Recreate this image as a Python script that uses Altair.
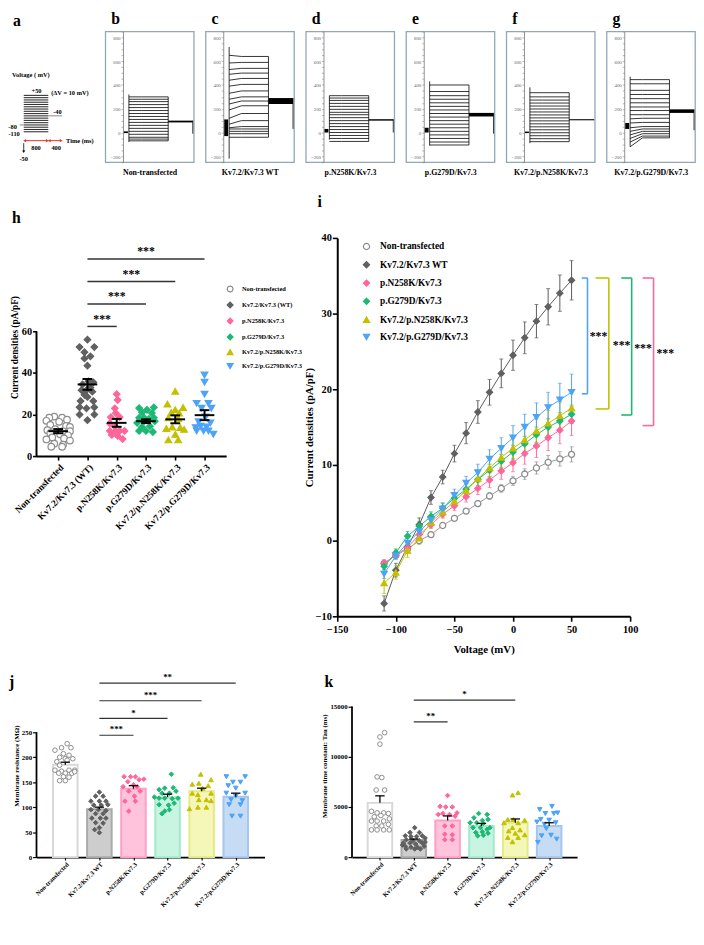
import altair as alt
import pandas as pd

FONT = "Liberation Serif"

# ============================ DATA ============================
protocol_steps_mv = [-110, -100, -90, -80, -70, -60, -50, -40, -30, -20, -10, 0, 10, 20, 30, 40, 50]
protocol_step_ms = [0, 800]
protocol_tail_ms = [800, 1250]
protocol_tail_mv = -40
protocol_hold_ms = [-130, 0]
protocol_hold_mv = -80

trace_letters = ["b", "c", "d", "e", "f", "g"]
trace_labels = ["Non-transfected", "Kv7.2/Kv7.3 WT", "p.N258K/Kv7.3",
                "p.G279D/Kv7.3", "Kv7.2/p.N258K/Kv7.3", "Kv7.2/p.G279D/Kv7.3"]
steady_b = [-70, -55, -40, -15, 10, 35, 60, 85, 110, 135, 160, 185, 210, 235, 260, 280, 300]
steady_c = [-40, -10, 10, 30, 50, 100, 160, 225, 265, 300, 350, 405, 455, 500, 540, 590, 640]
steady_d = [-75, -50, -25, 0, 25, 50, 75, 100, 125, 150, 170, 195, 220, 245, 270, 290, 310]
steady_e = [-105, -80, -50, -20, 10, 40, 70, 100, 130, 160, 190, 220, 250, 280, 310, 345, 400]
steady_f = [-77, -52, -27, -2, 23, 48, 73, 98, 123, 148, 173, 198, 223, 248, 273, 300, 335]
steady_g = [-45, -30, -10, 10, 30, 50, 85, 120, 150, 185, 215, 250, 285, 320, 355, 410, 445]
onset_c = [-40, -10, 10, 30, 40, 70, 120, 190, 240, 280, 330, 390, 440, 490, 530, 585, 650]
onset_g = [-120, -80, -50, -20, 10, 40, 80, 115, 150, 185, 215, 250, 285, 320, 355, 410, 445]
trace_steady = [steady_b, steady_c, steady_d, steady_e, steady_f, steady_g]
trace_onset = [steady_b, onset_c, steady_d, steady_e, steady_f, onset_g]
tail_lo = [85, 240, 100, 135, 103, 165]
tail_hi = [100, 290, 112, 165, 112, 195]
tail_end = [-10, 30, 0, -10, 103, 20]
spike_lo = [-80, -220, -60, -110, -90, -120]
spike_hi = [320, 720, 310, 430, 380, 470]
hold_lo = [-5, -30, 0, 0, -5, 30]
hold_hi = [10, 110, 30, 40, 8, 80]
trace_ticks = [-250, -200, -150, -100, -50, 0, 50, 100, 150, 200, 250, 300, 350, 400,
               450, 500, 550, 600, 650, 700, 750, 800, 850]

h_groups = ["Non-transfected", "Kv7.2/Kv7.3 (WT)", "p.N258K/Kv7.3", "p.G279D/Kv7.3",
            "Kv7.2/p.N258K/Kv7.3", "Kv7.2/p.G279D/Kv7.3"]
groups = ["Non-transfected", "Kv7.2/Kv7.3 WT", "p.N258K/Kv7.3", "p.G279D/Kv7.3",
          "Kv7.2/p.N258K/Kv7.3", "Kv7.2/p.G279D/Kv7.3"]
pt_stroke = ["#8c8c8c", "#606060", "#ff6699", "#1db874", "#c4c000", "#4da3f7"]
pt_fill = ["#ffffff", "#606060", "#ff6699", "#1db874", "#c4c000", "#4da3f7"]
pt_shape = ["circle", "diamond", "diamond", "diamond", "triangle-up", "triangle-down"]
bar_fill = ["#ffffff", "#cdcdcd", "#ffc3dc", "#c8f4e2", "#f4f7b8", "#c6dbf4"]
bar_stroke = ["#d8d8d8", "#a9a9a9", "#ff9ec6", "#a3e9cc", "#e4ea86", "#a6c5ec"]

h_nt = [19, 18.5, 18.5, 17.5, 17, 16.5, 15, 14.5, 14, 13, 12.5, 12, 12, 11, 10.5, 10, 9, 8.5, 8, 7.5, 6, 5.5, 4.5, 4.5]
h_nt_off = [-4, 4, -9, 9, -12, 1, -8, 8, 12, -3, -11, 5, 12, -8, 2, 10, -6, 6, -12, 12, -4, 5, -7, 4]
h_wt = [56, 52.5, 52.5, 50, 48, 47, 43.5, 36, 35.5, 34.5, 33, 31.7, 31.7, 31, 29.5, 28.5, 26.5, 26.5, 23.5, 23, 23.5, 20, 20, 17.3]
h_wt_off = [0, -8, 7, -3, 3, -3, 0, 1, 6, -5, 3, -6, -1, 5, -3, 0, -7, 6, -8, -1, 7, -8, 7, 0]
h_n258 = [29.8, 27, 23, 20.7, 18.7, 18.7, 15.7, 14.4, 12.1, 12.1, 12.1, 12.1, 10.2, 9.7, 8.2]
h_n258_off = [0, 1, -2, -1, -6, 3, -7, -2, -7, -1, 3, 8, -5, 1, 6]
h_g279 = [23.4, 22.3, 23.1, 21, 20.7, 18.4, 17.9, 18.4, 16.8, 12.1, 12.1, 11.6, 14, 14.4, 18.4, 16.8, 16]
h_g279_off = [8, 1, -7, -4, 6, -7, 3, 8, -2, -7, 0, 7, -4, 4, -2, 9, -9]
h_kn = [31.2, 25, 22.3, 23.4, 21, 20.7, 18.4, 18.1, 14, 13.7, 13.3, 12.9, 10.5, 7.8, 7.8]
h_kn_off = [0, -8, 0, 8, -4, 4, -7, 3, -3, 5, -9, 9, 0, -7, 3]
h_kg = [39, 35.6, 29.8, 25.4, 25.4, 23, 23, 18.8, 16.5, 16, 12.1, 12.1, 12.1, 10.5, 14.4, 14, 13.7]
h_kg_off = [0, 0, 0, -8, 4, -3, 7, 1, -6, 6, -8, -1, 4, 9, -4, 2, -9]
h_values = [h_nt, h_wt, h_n258, h_g279, h_kn, h_kg]
h_offsets = [h_nt_off, h_wt_off, h_n258_off, h_g279_off, h_kn_off, h_kg_off]
h_mean = [12.0, 34.5, 16.0, 16.8, 17.7, 19.7]
h_sem = [1.0, 2.6, 1.9, 0.9, 1.9, 2.4]
h_sig_to = [2, 3, 4, 5]
h_sig_y = [62.4, 73.2, 84.0, 94.8]
h_sig_txt = ["***", "***", "***", "***"]

iv_mv = [-110, -100, -90, -80, -70, -60, -50, -40, -30, -20, -10, 0, 10, 20, 30, 40, 50]
iv_nt = [-3.0, -1.95, -1.1, 0.0, 0.8, 2.0, 2.95, 3.9, 4.9, 5.9, 6.9, 7.9, 8.8, 9.6, 10.35, 10.8, 11.4]
iv_nt_e = [0.3, 0.3, 0.3, 0.3, 0.3, 0.3, 0.3, 0.35, 0.4, 0.45, 0.5, 0.6, 0.7, 0.8, 0.9, 0.95, 1.0]
iv_wt = [-8.3, -3.9, -0.8, 2.1, 5.7, 8.4, 11.5, 14.2, 17.0, 19.6, 22.1, 24.5, 26.8, 29.0, 30.9, 32.7, 34.4]
iv_wt_e = [1.0, 0.9, 0.6, 0.9, 0.9, 0.9, 1.1, 1.4, 1.5, 1.7, 1.9, 2.0, 2.1, 2.2, 2.4, 2.4, 2.6]
iv_n258 = [-3.0, -1.9, -0.9, 0.8, 2.1, 3.5, 4.6, 5.8, 6.9, 8.0, 9.2, 10.3, 11.5, 12.5, 13.6, 14.6, 15.8]
iv_n258_e = [0.5, 0.4, 0.4, 0.4, 0.4, 0.5, 0.6, 0.7, 0.8, 1.0, 1.1, 1.2, 1.4, 1.5, 1.7, 1.8, 1.9]
iv_g279 = [-3.4, -1.6, 0.6, 1.9, 3.2, 4.3, 5.6, 6.8, 8.1, 9.3, 10.5, 11.7, 12.8, 14.0, 15.0, 15.8, 16.7]
iv_g279_e = [0.5, 0.5, 0.6, 0.6, 0.6, 0.7, 0.7, 0.7, 0.8, 0.8, 0.9, 0.9, 1.0, 1.0, 1.1, 1.1, 1.2]
iv_kn = [-5.6, -4.2, -1.3, 0.3, 2.4, 3.8, 5.2, 6.6, 8.2, 9.6, 11.0, 12.2, 13.3, 14.5, 15.5, 16.5, 17.5]
iv_kn_e = [1.4, 0.9, 0.9, 0.8, 0.8, 0.8, 0.9, 1.0, 1.1, 1.2, 1.3, 1.4, 1.5, 1.6, 1.7, 1.8, 2.0]
iv_kg = [-4.4, -2.0, -0.3, 1.2, 2.7, 4.2, 6.0, 7.6, 9.0, 10.8, 12.2, 13.6, 15.0, 16.3, 17.6, 18.6, 19.6]
iv_kg_e = [0.6, 0.5, 0.6, 0.6, 0.6, 0.7, 0.8, 0.9, 1.1, 1.2, 1.4, 1.6, 1.7, 1.9, 2.0, 2.2, 2.4]
iv_means = [iv_nt, iv_wt, iv_n258, iv_g279, iv_kn, iv_kg]
iv_errs = [iv_nt_e, iv_wt_e, iv_n258_e, iv_g279_e, iv_kn_e, iv_kg_e]
iv_line_color = ["#9a9a9a", "#5a5a5a", "#ff6699", "#1db874", "#c4c000", "#4da3f7"]
br_color = ["#4da3f7", "#c4c000", "#1db874", "#ff6699"]
br_x = [63.6, 81.8, 101.3, 120.0]
br_xl = [58.7, 70.5, 92.4, 110.6]
br_top = [34.7, 34.7, 34.7, 34.7]
br_bot = [19.4, 17.4, 16.6, 15.2]
br_star_x = [73.0, 92.7, 111.0, 130.0]
br_star_y = [27.0, 25.9, 25.5, 24.8]

j_nt = [227, 219, 219, 214, 207, 204, 200, 197, 197, 191, 194, 184, 174, 172, 174, 174, 168, 168, 168, 161, 160, 153, 153, 171]
j_nt_off = [2, -4, 6, -11, -2, 4, -6, 8, 0, -9, 2, -6, -11, -4, 4, 10, -7, 0, 7, -2, 4, -6, 0, 10]
j_wt = [130, 122, 122, 112, 112, 112, 104, 104, 105, 95, 95, 93, 87, 87, 78, 78, 78, 69, 68, 59, 55, 49]
j_wt_off = [0, -4, 4, -9, 0, 7, -6, 2, 9, -9, -1, 7, -4, 4, -8, 1, 7, -4, 4, 0, -5, 0]
j_n258 = [161, 161, 161, 155, 156, 151, 145, 141, 141, 132, 132, 122, 112, 112, 92]
j_n258_off = [-10, -3, 2, 6, 11, -6, 0, -11, 4, -5, 7, 1, -9, 2, -5]
j_g279 = [166, 138, 139, 135, 132, 128, 128, 120, 118, 118, 117, 118, 105, 104, 108, 92, 95, 87]
j_g279_off = [4, -3, 6, -9, 9, -6, 2, -14, -9, -3, 5, 11, -9, 1, 7, -3, 2, -6]
j_kn = [166, 146, 143, 155, 148, 138, 128, 128, 125, 115, 113, 115, 100, 100, 97]
j_kn_off = [-1, -10, 7, 10, -3, 1, -10, 10, -4, 5, 10, -3, -4, 5, -13]
j_kg = [161, 161, 150, 150, 143, 138, 128, 128, 122, 115, 113, 105, 105, 82, 82]
j_kg_off = [-10, 10, -3, 5, -8, 0, -10, 10, 0, -5, 7, -7, 5, -4, 5]
j_values = [j_nt, j_wt, j_n258, j_g279, j_kn, j_kg]
j_offsets = [j_nt_off, j_wt_off, j_n258_off, j_g279_off, j_kn_off, j_kg_off]
j_mean = [185, 96, 137, 120, 132, 121]
j_cap = [190, 100, 143, 126, 138, 128]
j_sig_to = [2, 3, 4, 5]
j_sig_y = [244, 277.6, 313, 348.5]
j_sig_txt = ["***", "*", "***", "**"]

k_nt = [12390, 11960, 11250, 7990, 7920, 6680, 6680, 4560, 4400, 4400, 4340, 4010, 3810, 3590, 3590, 3590, 3100, 3100, 3260, 2710, 2710, 2710, 2710, 4140]
k_nt_off = [5, 0, 0, -3, 2, -4, 5, -9, -3, 4, 9, -6, 10, -9, -3, 4, -4, 2, 9, -9, -3, 4, 10, 1]
k_wt = [2930, 2450, 2450, 2120, 2050, 2050, 2120, 1730, 1630, 1630, 1400, 1400, 1300, 1400, 1075, 980, 980, 1075, 815, 815, 815, 1900, 1200, 1500]
k_wt_off = [1, -4, 6, -9, -3, 3, 9, -8, -1, 6, -11, -4, 2, 9, -9, -3, 4, 11, -8, 1, 7, 12, -12, 12]
k_n258 = [6130, 5050, 4990, 4990, 4400, 4240, 4340, 4240, 4075, 3100, 3100, 2280, 2220, 1730, 1730]
k_n258_off = [0, -8, -2, 5, 10, -10, -5, 2, 8, -3, 5, -3, 5, -3, 5]
k_g279 = [4340, 4240, 3910, 3650, 3750, 3420, 3420, 3360, 2930, 2930, 2930, 2770, 2450, 2510, 2380, 2120, 2180]
k_g279_off = [-3, 6, -8, 1, 7, -12, -5, 2, 9, -9, -1, 6, -6, 1, 7, -4, 2]
k_kn = [6190, 6420, 3750, 3750, 3680, 3420, 3420, 2930, 2710, 2610, 2380, 1960, 2220, 1960, 1530]
k_kn_off = [-3, 3, -8, -2, 10, -12, 3, -3, 5, -7, 0, -8, 10, 3, -3]
k_kg = [4730, 5050, 4340, 4340, 4400, 3750, 3680, 3490, 3260, 3420, 2840, 2120, 2180, 1470, 1790]
k_kg_off = [-10, 3, -4, 5, 9, -9, 0, -13, -5, 7, -3, -8, 2, -12, 8]
k_values = [k_nt, k_wt, k_n258, k_g279, k_kn, k_kg]
k_offsets = [k_nt_off, k_wt_off, k_n258_off, k_g279_off, k_kn_off, k_kg_off]
k_mean = [5400, 1700, 3650, 3100, 3420, 3100]
k_cap = [6100, 1800, 4100, 3350, 3800, 3420]
k_sig_to = [2, 4]
k_sig_y = [13470, 15625]
k_sig_txt = ["**", "*"]


# ============================ HELPERS ============================
def axis(**kw):
    base = dict(labelFont=FONT, titleFont=FONT, labelFontWeight="bold", titleFontWeight="bold",
                labelColor="black", titleColor="black", domainColor="black", tickColor="black",
                domainWidth=2, tickWidth=1.6, grid=False, labelOverlap=False, minExtent=0)
    base.update(kw)
    return alt.Axis(**base)


def cat_expr(labels):
    return "[" + ",".join("'%s'" % s for s in labels) + "][datum.value]"


def letter_title(txt, dx, offset):
    return alt.TitleParams(txt, anchor="start", frame="group", dx=dx, offset=offset,
                           fontSize=16, font=FONT, fontWeight="bold", color="black")


# ============================ PANEL a ============================
A_W, A_H = 57, 133
axs = alt.Scale(domain=[416, 2240], nice=False, zero=False)
ays = alt.Scale(domain=[-244, 331], nice=False, zero=False)


def AX(f):
    return alt.X(f, type="quantitative", scale=axs, axis=None)


def AY(f):
    return alt.Y(f, type="quantitative", scale=ays, axis=None)


a_steps = alt.Chart(pd.DataFrame({"t0": protocol_step_ms[0], "t1": protocol_step_ms[1],
                                  "v": protocol_steps_mv})).mark_rule(color="#333333", strokeWidth=1.1).encode(
    x=AX("t0"), x2="t1", y=AY("v"))
a_other = alt.Chart(pd.DataFrame({"t0": [protocol_hold_ms[0], protocol_tail_ms[0]],
                                  "t1": [protocol_hold_ms[1], protocol_tail_ms[1]],
                                  "v": [protocol_hold_mv, protocol_tail_mv]})).mark_rule(
    color="#8a8a8a", strokeWidth=1).encode(x=AX("t0"), x2="t1", y=AY("v"))
arrow_df = pd.DataFrame({"t0": [30, 830], "t1": [770, 1220], "v": [-149, -149]})
a_arrows = alt.Chart(arrow_df).mark_rule(color="#e8332a", strokeWidth=1).encode(x=AX("t0"), x2="t1", y=AY("v"))
heads = pd.DataFrame({"t": [30, 770, 830, 1220], "v": [-149] * 4,
                      "s": ["triangle-left", "triangle-right", "triangle-left", "triangle-right"]})
a_heads = alt.Chart(heads).mark_point(filled=True, color="#e8332a", size=12, opacity=1).encode(
    x=AX("t"), y=AY("v"), shape=alt.Shape("s:N", scale=None))
a_down = alt.Chart(pd.DataFrame({"t": [0], "v0": [-160], "v1": [-195]})).mark_rule(
    color="black", strokeWidth=0.8).encode(x=AX("t"), y=AY("v0"), y2="v1")
a_down_head = alt.Chart(pd.DataFrame({"t": [0], "v": [-198]})).mark_point(
    filled=True, color="black", shape="triangle-down", size=10, opacity=1).encode(x=AX("t"), y=AY("v"))
a_left = pd.DataFrame({"s": ["Voltage ( mV)", "(\u0394V = 10 mV)", "-40", "Time (ms)"],
                       "t": [-380, 896, 960, 1376], "v": [141, 59, -24, -149]})
a_center = pd.DataFrame({"s": ["+50", "800", "400", "-50"],
                         "t": [416, 400, 1056, 0], "v": [67, -180, -180, -231]})
a_right = pd.DataFrame({"s": ["-80", "-110"], "t": [-224, -128], "v": [-88, -118]})


def a_text(df, align):
    return alt.Chart(df).mark_text(align=align, baseline="middle", font=FONT, fontSize=6.5,
                                   fontWeight="bold", color="black").encode(x=AX("t"), y=AY("v"), text="s:N")


panel_a = alt.layer(a_steps, a_other, a_arrows, a_heads, a_down, a_down_head,
                    a_text(a_left, "left"), a_text(a_center, "center"), a_text(a_right, "right")).properties(
    width=A_W, height=A_H, title=letter_title("a", -24, 3))

# ============================ PANELS b-g ============================
TR_W, TR_H = 90, 133
tx = alt.Scale(domain=[-480, 1320], nice=False, zero=False)
ty = alt.Scale(domain=[-250, 850], nice=False, zero=False)


def trace_panel(i):
    rows = []
    for k, (o, s) in enumerate(zip(trace_onset[i], trace_steady[i])):
        rows += [dict(k=k, t=0, v=o), dict(k=k, t=250, v=s), dict(k=k, t=800, v=s)]
    xa = alt.Axis(title=trace_labels[i], labels=False, ticks=False, domain=False, grid=False,
                  titleFont=FONT, titleFontSize=8, titleFontWeight="bold", titleColor="black", titlePadding=6)
    ya = alt.Axis(title=None, values=trace_ticks, labelExpr="datum.value % 200 == 0 ? datum.label : ''",
                  offset=-18, grid=False, tickSize=2, tickWidth=0.6, tickColor="#888888", minExtent=0,
                  domainColor="#777777", domainWidth=0.8, labelFont=FONT, labelFontSize=5,
                  labelColor="#666666", labelPadding=1, labelOverlap=False)

    def X(f):
        return alt.X(f, type="quantitative", scale=tx, axis=xa)

    def Y(f):
        return alt.Y(f, type="quantitative", scale=ty, axis=ya)

    lines = alt.Chart(pd.DataFrame(rows)).mark_line(color="black", strokeWidth=0.8).encode(
        x=X("t"), y=Y("v"), detail="k:N")
    edges = pd.DataFrame({"t": [0, 800, 1300],
                          "lo": [spike_lo[i], min(trace_steady[i]), min(tail_end[i], tail_lo[i])],
                          "hi": [spike_hi[i], max(trace_steady[i]), tail_hi[i]]})
    edge = alt.Chart(edges).mark_rule(color="black", strokeWidth=0.8).encode(x=X("t"), y=Y("lo"), y2="hi")
    boxes = pd.DataFrame({"t0": [-100, 800], "t1": [-20, 1300],
                          "lo": [hold_lo[i], tail_lo[i]], "hi": [hold_hi[i], tail_hi[i]]})
    box = alt.Chart(boxes).mark_rect(color="black").encode(x=X("t0"), x2="t1", y=Y("lo"), y2="hi")
    return alt.layer(lines, edge, box).properties(
        width=TR_W, height=TR_H, title=letter_title(trace_letters[i], 6, 3),
        view=alt.ViewBackground(stroke="#8fa8b3", strokeWidth=1.3))


trace_panels = [trace_panel(i) for i in range(6)]

# ============================ PANEL h ============================
H_W, H_H = 193, 222
h_pad = 0.74
h_step = H_W / (5 + 2 * h_pad)
hx = alt.Scale(domain=[-h_pad, 5 + h_pad], nice=False, zero=False)
hy = alt.Scale(domain=[0, 105], nice=False, zero=False)
hxa = axis(values=[0, 1, 2, 3, 4, 5], labelExpr=cat_expr(h_groups), labelAngle=-45, labelAlign="right",
           labelBaseline="top", labelFontSize=9.5, tickSize=4, labelPadding=2, title=None)
hya = axis(values=[0, 20, 40, 60], domain=False, tickSize=4, labelFontSize=10.5, labelPadding=1,
           title="Current densities (pA/pF)", titleFontSize=9.5, titlePadding=2)


def hX(f):
    return alt.X(f, type="quantitative", scale=hx, axis=hxa)


def hY(f):
    return alt.Y(f, type="quantitative", scale=hy, axis=hya)


h_pts = pd.DataFrame([{"g": h_groups[i], "x": i + o / h_step, "v": v}
                      for i in range(6) for v, o in zip(h_values[i], h_offsets[i])])
legend_h = alt.Legend(title="\u00a0", titleFontSize=2, titlePadding=46, orient="right", offset=0,
                      labelFont=FONT, labelFontSize=6.5, labelFontWeight="bold", labelColor="black",
                      symbolSize=35, rowPadding=4.3, padding=0, symbolStrokeWidth=1.2, labelOffset=8)
h_points = alt.Chart(h_pts).mark_point(size=45, strokeWidth=1.2, opacity=1).encode(
    x=hX("x"), y=hY("v"),
    stroke=alt.Stroke("g:N", scale=alt.Scale(domain=h_groups, range=pt_stroke), legend=legend_h),
    fill=alt.Fill("g:N", scale=alt.Scale(domain=h_groups, range=pt_fill), legend=legend_h),
    shape=alt.Shape("g:N", scale=alt.Scale(domain=h_groups, range=pt_shape), legend=legend_h))
h_ms = pd.DataFrame({"i": list(range(6)), "m": h_mean, "s": h_sem})
h_ms["xl"] = h_ms["i"] - 10 / h_step
h_ms["xr"] = h_ms["i"] + 10 / h_step
h_ms["cl"] = h_ms["i"] - 5 / h_step
h_ms["cr"] = h_ms["i"] + 5 / h_step
h_ms["lo"] = h_ms["m"] - h_ms["s"]
h_ms["hi"] = h_ms["m"] + h_ms["s"]
h_mean_l = alt.Chart(h_ms).mark_rule(color="black", strokeWidth=2).encode(x=hX("xl"), x2="xr", y=hY("m"))
h_sem_l = alt.Chart(h_ms).mark_rule(color="black", strokeWidth=2).encode(x=hX("i"), y=hY("lo"), y2="hi")
h_cap_hi = alt.Chart(h_ms).mark_rule(color="black", strokeWidth=2).encode(x=hX("cl"), x2="cr", y=hY("hi"))
h_cap_lo = alt.Chart(h_ms).mark_rule(color="black", strokeWidth=2).encode(x=hX("cl"), x2="cr", y=hY("lo"))
h_sig = pd.DataFrame({"x0": 1, "x1": h_sig_to, "y": h_sig_y, "s": h_sig_txt})
h_sig["xm"] = (h_sig["x0"] + h_sig["x1"]) / 2
h_sig_l = alt.Chart(h_sig).mark_rule(color="#333333", strokeWidth=1.5).encode(x=hX("x0"), x2="x1", y=hY("y"))
h_sig_t = alt.Chart(h_sig).mark_text(baseline="bottom", dy=-1, font=FONT, fontSize=12, fontWeight="bold",
                                     color="black").encode(x=hX("xm"), y=hY("y"), text="s:N")
h_yline = alt.Chart(pd.DataFrame({"a": [0], "b": [60]})).mark_rule(color="black", strokeWidth=2).encode(
    x=alt.value(0), y=hY("a"), y2="b")
panel_h = alt.layer(h_yline, h_points, h_mean_l, h_sem_l, h_cap_hi, h_cap_lo, h_sig_l, h_sig_t).properties(
    width=H_W, height=H_H, title=letter_title("h", -25, 12))

# ============================ PANEL i ============================
I_W, I_H = 298, 385
ix = alt.Scale(domain=[-150, 100], nice=False, zero=False)
iy = alt.Scale(domain=[-10, 40], nice=False, zero=False)
ixa = axis(values=[-150, -100, -50, 0, 50, 100], title="Voltage (mV)", labelFontSize=10.5, titleFontSize=11,
           tickSize=5, labelPadding=3, titlePadding=9, labelFlush=False)
iya = axis(values=[-10, 0, 10, 20, 30, 40], title="Current densities (pA/pF)", labelFontSize=10.5,
           titleFontSize=11, tickSize=5, labelPadding=1, titlePadding=1)


def iX(f):
    return alt.X(f, type="quantitative", scale=ix, axis=ixa)


def iY(f):
    return alt.Y(f, type="quantitative", scale=iy, axis=iya)


iv_rows = []
for gi in range(6):
    for v, m, e in zip(iv_mv, iv_means[gi], iv_errs[gi]):
        iv_rows.append({"g": groups[gi], "v": v, "m": m, "lo": m - e, "hi": m + e, "lc": iv_line_color[gi]})
iv_df = pd.DataFrame(iv_rows)
legend_i = alt.Legend(title=None, orient="top-left", offset=4, labelFont=FONT, labelFontSize=9.5,
                      labelFontWeight="bold", labelColor="black", symbolSize=40, rowPadding=6.6, padding=0,
                      symbolStrokeWidth=1.2, symbolOffset=21, labelOffset=9)
i_err = alt.Chart(iv_df).mark_rule(strokeWidth=1).encode(x=iX("v"), y=iY("lo"), y2="hi",
                                                          stroke=alt.Stroke("lc:N", scale=None))
i_caps_hi = alt.Chart(iv_df).mark_tick(orient="horizontal", size=4, thickness=1).encode(
    x=iX("v"), y=iY("hi"), color=alt.Color("lc:N", scale=None))
i_caps_lo = alt.Chart(iv_df).mark_tick(orient="horizontal", size=4, thickness=1).encode(
    x=iX("v"), y=iY("lo"), color=alt.Color("lc:N", scale=None))
i_lines = alt.Chart(iv_df).mark_line(strokeWidth=1).encode(x=iX("v"), y=iY("m"), detail="g:N",
                                                            stroke=alt.Stroke("lc:N", scale=None))
i_points = alt.Chart(iv_df).mark_point(size=38, strokeWidth=1.3, opacity=1).encode(
    x=iX("v"), y=iY("m"),
    stroke=alt.Stroke("g:N", scale=alt.Scale(domain=groups, range=pt_stroke), legend=legend_i),
    fill=alt.Fill("g:N", scale=alt.Scale(domain=groups, range=pt_fill), legend=legend_i),
    shape=alt.Shape("g:N", scale=alt.Scale(domain=groups, range=pt_shape), legend=legend_i))
br_df = pd.DataFrame({"x": br_x, "xl": br_xl, "top": br_top, "bot": br_bot, "c": br_color,
                      "sx": br_star_x, "sy": br_star_y, "s": ["***"] * 4})
i_br_v = alt.Chart(br_df).mark_rule(strokeWidth=1.6).encode(x=iX("x"), y=iY("bot"), y2="top",
                                                             stroke=alt.Stroke("c:N", scale=None))
i_br_t = alt.Chart(br_df).mark_rule(strokeWidth=1.6).encode(x=iX("xl"), x2="x", y=iY("top"),
                                                             stroke=alt.Stroke("c:N", scale=None))
i_br_b = alt.Chart(br_df).mark_rule(strokeWidth=1.6).encode(x=iX("xl"), x2="x", y=iY("bot"),
                                                             stroke=alt.Stroke("c:N", scale=None))
i_stars = alt.Chart(br_df).mark_text(font=FONT, fontSize=12, fontWeight="bold", color="black").encode(
    x=iX("sx"), y=iY("sy"), text="s:N")
panel_i = alt.layer(i_err, i_caps_hi, i_caps_lo, i_lines, i_points, i_br_v, i_br_t, i_br_b, i_stars).properties(
    width=I_W, height=I_H, title=letter_title("i", -20, 23))


# ============================ PANELS j, k ============================
def bar_panel(letter, values, offsets, means, caps, sig_to, sig_y, sig_txt,
              ydom, yvals, ymax_axis, ytitle, W, H, pad, star_size):
    step = W / (5 + 2 * pad)
    xs = alt.Scale(domain=[-pad, 5 + pad], nice=False, zero=False)
    ys = alt.Scale(domain=ydom, nice=False, zero=False)
    xa = axis(values=[0, 1, 2, 3, 4, 5], labelExpr=cat_expr(groups), labelAngle=-45, labelAlign="right",
              labelBaseline="top", labelFontSize=6.5, tickSize=3, labelPadding=1, title=None,
              domainWidth=1.8, tickWidth=1.2)
    ya = axis(values=yvals, domain=False, tickSize=4, labelFontSize=7, labelPadding=1, format="d",
              title=ytitle, titleFontSize=7, titlePadding=2, tickWidth=1.2)

    def X(f):
        return alt.X(f, type="quantitative", scale=xs, axis=xa)

    def Y(f):
        return alt.Y(f, type="quantitative", scale=ys, axis=ya)

    bars = pd.DataFrame({"i": list(range(6)), "m": means, "c": caps, "z": 0, "f": bar_fill, "st": bar_stroke})
    bars["cl"] = bars["i"] - 5 / step
    bars["cr"] = bars["i"] + 5 / step
    pts = pd.DataFrame([{"x": i + o / step, "v": v, "sh": pt_shape[i], "sc": pt_stroke[i], "fc": pt_fill[i]}
                        for i in range(6) for v, o in zip(values[i], offsets[i])])
    sig = pd.DataFrame({"x0": 1, "x1": sig_to, "y": sig_y, "s": sig_txt})
    sig["xm"] = (sig["x0"] + sig["x1"]) / 2
    yline = alt.Chart(pd.DataFrame({"a": [0], "b": [ymax_axis]})).mark_rule(color="black", strokeWidth=1.8).encode(
        x=alt.value(0), y=Y("a"), y2="b")
    bar = alt.Chart(bars).mark_bar(size=25, strokeWidth=2).encode(
        x=X("i"), y=Y("m"), y2="z", fill=alt.Fill("f:N", scale=None), stroke=alt.Stroke("st:N", scale=None))
    points = alt.Chart(pts).mark_point(size=22, strokeWidth=1, opacity=1).encode(
        x=X("x"), y=Y("v"), shape=alt.Shape("sh:N", scale=None), stroke=alt.Stroke("sc:N", scale=None),
        fill=alt.Fill("fc:N", scale=None))
    err = alt.Chart(bars).mark_rule(color="black", strokeWidth=1.3).encode(x=X("i"), y=Y("m"), y2="c")
    cap = alt.Chart(bars).mark_rule(color="black", strokeWidth=1.3).encode(x=X("cl"), x2="cr", y=Y("c"))
    sig_l = alt.Chart(sig).mark_rule(color="#333333", strokeWidth=1.2).encode(x=X("x0"), x2="x1", y=Y("y"))
    sig_t = alt.Chart(sig).mark_text(baseline="bottom", dy=-1, font=FONT, fontSize=star_size, fontWeight="bold",
                                     color="black").encode(x=X("xm"), y=Y("y"), text="s:N")
    let = alt.Chart(pd.DataFrame({"s": [letter]})).mark_text(
        align="left", baseline="top", font=FONT, fontSize=16, fontWeight="bold", color="black").encode(
        x=alt.value(-28), y=alt.value(0), text="s:N")
    return alt.layer(yline, bar, points, err, cap, sig_l, sig_t, let).properties(width=W, height=H)


panel_j = bar_panel("j", j_values, j_offsets, j_mean, j_cap, j_sig_to, j_sig_y, j_sig_txt,
                    [0, 366], [0, 50, 100, 150, 200, 250], 250, "Membrane resistance (M\u03a9)",
                    232, 186, 0.70, 9)
panel_k = bar_panel("k", k_values, k_offsets, k_mean, k_cap, k_sig_to, k_sig_y, k_sig_txt,
                    [0, 18200], [0, 5000, 10000, 15000], 15000, "Membrane time constant: Tau (ms)",
                    229, 186, 0.68, 9)

# ============================ LAYOUT ============================
row1 = alt.hconcat(panel_a, *trace_panels, spacing=10)
row2 = alt.hconcat(panel_h, panel_i, spacing=0).resolve_scale(
    stroke="independent", fill="independent", shape="independent").resolve_legend(
    stroke="independent", fill="independent", shape="independent")
row3 = alt.hconcat(panel_j, panel_k, spacing=57)
chart = alt.vconcat(row1, row2, row3, spacing=18).resolve_scale(
    stroke="independent", fill="independent", shape="independent").properties(
    padding={"top": -6, "left": 0, "right": 0, "bottom": 0}).configure(
    font=FONT).configure_view(strokeWidth=0)

chart.save("out.html", embed_options={"renderer": "svg", "actions": False})
